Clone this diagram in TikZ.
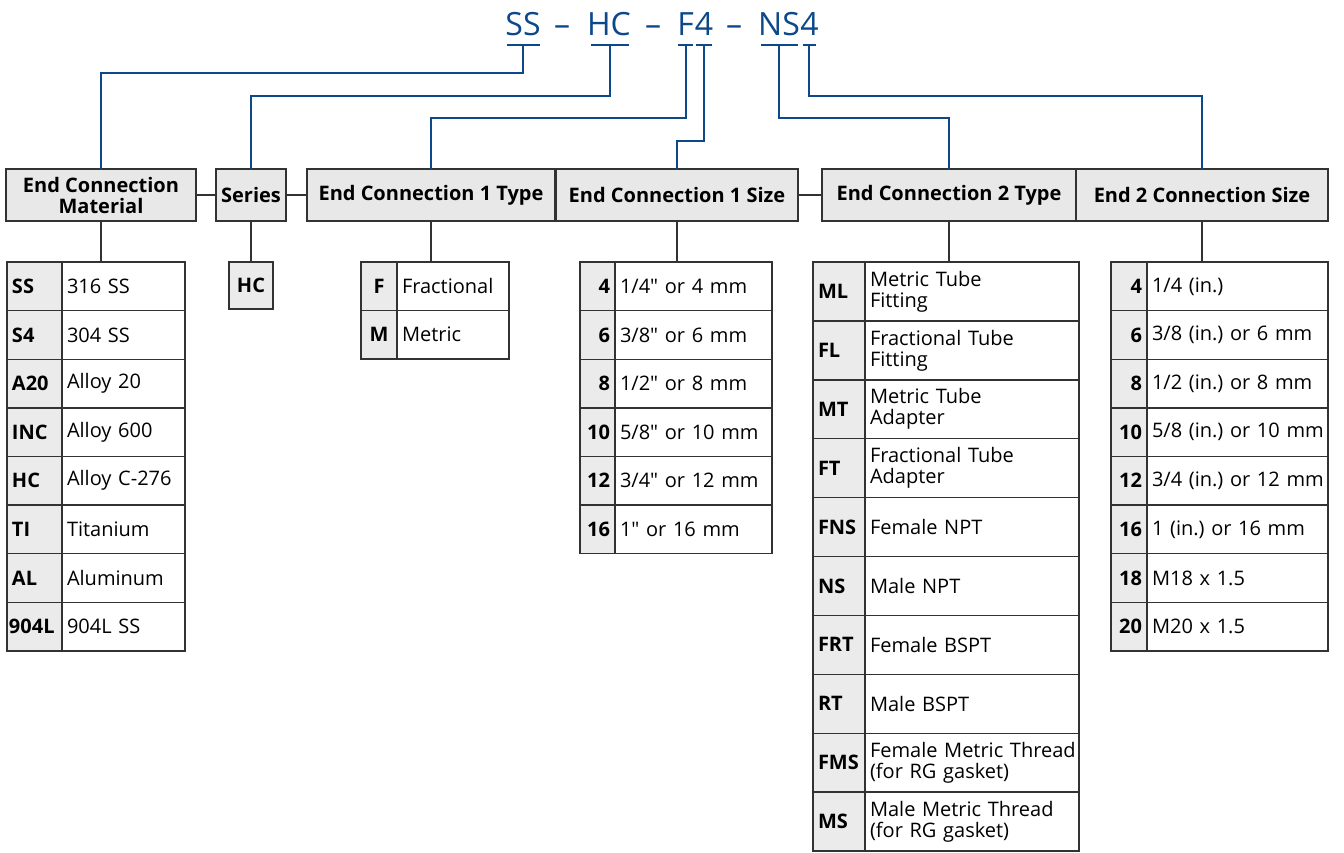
\documentclass[tikz,border=0pt]{standalone}
\usepackage{fontspec}
\setmainfont{Open Sans}[Ligatures=TeXOff]
\frenchspacing
\definecolor{codeblue}{RGB}{12,72,138}
\definecolor{hdrfill}{RGB}{232,232,232}
\definecolor{codefill}{RGB}{235,235,235}
\definecolor{linegray}{RGB}{50,50,50}
\newcommand\tabfont{\fontsize{20}{21}\selectfont\frenchspacing}
\newcommand\mkrow[9]{%
  \node[codecell,#9,minimum height=#6,text width=#4] (#1c) at (#2,#3) {#7};
  \node[desccell,minimum height=#6,text width=#5] (#1d) at (#1c.north east) {#8};
}
\begin{document}
\begin{tikzpicture}[x=1pt,y=-1pt,
  every node/.style={inner sep=0pt,outer sep=0pt},
  hdr/.style={draw=linegray,line width=1.4pt,fill=hdrfill,font=\tabfont\bfseries,align=center,minimum height=52pt},
  codecell/.style={draw=linegray,line width=1.4pt,fill=codefill,anchor=north west,font=\tabfont\bfseries,inner xsep=5pt},
  desccell/.style={draw=linegray,line width=1.4pt,fill=white,anchor=north west,font=\tabfont,align=left,inner xsep=5pt},
  conn/.style={draw=linegray,line width=1.4pt},
  blueline/.style={draw=codeblue,line width=2.2pt},
  codetxt/.style={text=codeblue,font=\fontsize{32}{34}\selectfont,anchor=base}]
\useasboundingbox (0,0) rectangle (1344,852);
\fill[white] (0,0) rectangle (1344,852);

% ---- code at top
\node[codetxt] (cSS) at (523,35) {SS};
\node[codetxt] (d1) at (562,35) {–};
\node[codetxt] (cHC) at (609,35) {HC};
\node[codetxt] (d2) at (653,35) {–};
\node[codetxt] (cF) at (685.5,35) {F};
\node[codetxt] (c4a) at (704,35) {4};
\node[codetxt] (d3) at (734,35) {–};
\node[codetxt] (cNS) at (779,35) {NS};
\node[codetxt] (c4b) at (809.5,35) {4};

\coordinate (uSSl) at (507,45); \coordinate (uSSr) at (540,45); \coordinate (uSS) at (523,45);
\coordinate (uHCl) at (591,45); \coordinate (uHCr) at (629,45); \coordinate (uHC) at (610,45);
\coordinate (uFl) at (678,45);  \coordinate (uFr) at (693,45);  \coordinate (uF) at (686,45);
\coordinate (u4al) at (696,45); \coordinate (u4ar) at (712,45); \coordinate (u4a) at (704,45);
\coordinate (uNSl) at (761,45); \coordinate (uNSr) at (798,45); \coordinate (uNS) at (779,45);
\coordinate (u4bl) at (803,45); \coordinate (u4br) at (816,45); \coordinate (u4b) at (809,45);
\foreach \u in {SS,HC,F,4a,NS,4b} {\draw[blueline] (u\u l) -- (u\u r);}

% ---- headers
\node[hdr,minimum width=190pt] (ecm) at (101,195) {End Connection\\Material};
\node[hdr,minimum width=70pt] (ser) at (251,195) {Series};
\node[hdr,minimum width=248pt] (t1) at (431,195) {End Connection 1 Type};
\node[hdr,minimum width=242pt] (s1) at (677,195) {End Connection 1 Size};
\node[hdr,minimum width=254pt] (t2) at (949,195) {End Connection 2 Type};
\node[hdr,minimum width=252pt] (s2) at (1202,195) {End 2 Connection Size};
\draw[conn] (ecm.east) -- (ser.west);
\draw[conn] (ser.east) -- (t1.west);
\draw[conn] (s1.east) -- (t2.west);

% ---- blue connectors
\draw[blueline] (uSS) -- ++(0,28) -| (ecm.north);
\draw[blueline] (uHC) -- ++(0,51) -| (ser.north);
\draw[blueline] (uF) -- ++(0,73) -| (t1.north);
\draw[blueline] (u4a) -- ++(0,96) -| (s1.north);
\draw[blueline] (uNS) -- ++(0,73) -| (t2.north);
\draw[blueline] (u4b) -- ++(0,51) -| (s2.north);

% ---- material table
\mkrow{m1}{7}{262}{45pt}{113pt}{48.6pt}{SS}{316 SS}{align=left}
\mkrow{m2}{7}{310.6}{45pt}{113pt}{48.6pt}{S4}{304 SS}{align=left}
\mkrow{m3}{7}{359.2}{45pt}{113pt}{48.6pt}{A20}{Alloy 20}{align=left}
\mkrow{m4}{7}{407.8}{45pt}{113pt}{48.6pt}{INC}{Alloy 600}{align=left}
\mkrow{m5}{7}{456.4}{45pt}{113pt}{48.6pt}{HC}{\mbox{Alloy C-276}}{align=left}
\mkrow{m6}{7}{505}{45pt}{113pt}{48.6pt}{TI}{Titanium}{align=left}
\mkrow{m7}{7}{553.6}{45pt}{113pt}{48.6pt}{AL}{Aluminum}{align=left}
\mkrow{m8}{7}{602.2}{45pt}{113pt}{48.6pt}{\hspace*{-3pt}904L}{904L SS}{align=left}

% ---- series
\node[codecell,minimum width=44pt,minimum height=47pt,inner xsep=0pt] (hc) at (229,262) {HC};

% ---- end 1 type
\mkrow{f1}{361}{262}{26pt}{102pt}{48.5pt}{F}{Fractional}{align=center}
\mkrow{f2}{361}{310.5}{26pt}{102pt}{48.5pt}{M}{Metric}{align=center}

% ---- end 1 size
\mkrow{a1}{580}{262}{25pt}{147pt}{48.6pt}{4}{\mbox{1/4" or 4 mm}}{align=right}
\mkrow{a2}{580}{310.6}{25pt}{147pt}{48.6pt}{6}{\mbox{3/8" or 6 mm}}{align=right}
\mkrow{a3}{580}{359.2}{25pt}{147pt}{48.6pt}{8}{\mbox{1/2" or 8 mm}}{align=right}
\mkrow{a4}{580}{407.8}{25pt}{147pt}{48.6pt}{10}{\mbox{5/8" or 10 mm}}{align=right}
\mkrow{a5}{580}{456.4}{25pt}{147pt}{48.6pt}{12}{\mbox{3/4" or 12 mm}}{align=right}
\mkrow{a6}{580}{505}{25pt}{147pt}{48.6pt}{16}{\mbox{1" or 16 mm}}{align=right}

% ---- end 2 type
\mkrow{b1}{813}{262}{42pt}{204pt}{58.9pt}{ML}{Metric Tube\\Fitting}{align=left}
\mkrow{b2}{813}{320.9}{42pt}{204pt}{58.9pt}{FL}{\mbox{Fractional Tube}\\Fitting}{align=left}
\mkrow{b3}{813}{379.8}{42pt}{204pt}{58.9pt}{MT}{Metric Tube\\Adapter}{align=left}
\mkrow{b4}{813}{438.7}{42pt}{204pt}{58.9pt}{FT}{\mbox{Fractional Tube}\\Adapter}{align=left}
\mkrow{b5}{813}{497.6}{42pt}{204pt}{58.9pt}{FNS}{Female NPT}{align=left}
\mkrow{b6}{813}{556.5}{42pt}{204pt}{58.9pt}{NS}{Male NPT}{align=left}
\mkrow{b7}{813}{615.4}{42pt}{204pt}{58.9pt}{FRT}{Female BSPT}{align=left}
\mkrow{b8}{813}{674.3}{42pt}{204pt}{58.9pt}{RT}{Male BSPT}{align=left}
\mkrow{b9}{813}{733.2}{42pt}{204pt}{58.9pt}{FMS}{\mbox{Female Metric Thread}\\\mbox{(for RG gasket)}}{align=left}
\mkrow{b10}{813}{792.1}{42pt}{204pt}{58.9pt}{MS}{\mbox{Male Metric Thread}\\\mbox{(for RG gasket)}}{align=left}

% ---- end 2 size
\mkrow{e1}{1111}{262}{26pt}{171pt}{48.6pt}{4}{\mbox{1/4 (in.)}}{align=right}
\mkrow{e2}{1111}{310.6}{26pt}{171pt}{48.6pt}{6}{\mbox{3/8 (in.) or 6 mm}}{align=right}
\mkrow{e3}{1111}{359.2}{26pt}{171pt}{48.6pt}{8}{\mbox{1/2 (in.) or 8 mm}}{align=right}
\mkrow{e4}{1111}{407.8}{26pt}{171pt}{48.6pt}{10}{\mbox{5/8 (in.) or 10 mm}}{align=right}
\mkrow{e5}{1111}{456.4}{26pt}{171pt}{48.6pt}{12}{\mbox{3/4 (in.) or 12 mm}}{align=right}
\mkrow{e6}{1111}{505}{26pt}{171pt}{48.6pt}{16}{\mbox{1 (in.) or 16 mm}}{align=right}
\mkrow{e7}{1111}{553.6}{26pt}{171pt}{48.6pt}{18}{\mbox{M18 x 1.5}}{align=right}
\mkrow{e8}{1111}{602.2}{26pt}{171pt}{48.6pt}{20}{\mbox{M20 x 1.5}}{align=right}

% ---- vertical connectors header -> table
\draw[conn] (ecm.south) -- (ecm.south |- m1c.north);
\draw[conn] (ser.south) -- (hc.north);
\draw[conn] (t1.south) -- (t1.south |- f1c.north);
\draw[conn] (s1.south) -- (s1.south |- a1c.north);
\draw[conn] (t2.south) -- (t2.south |- b1c.north);
\draw[conn] (s2.south) -- (s2.south |- e1c.north);
\end{tikzpicture}
\end{document}
